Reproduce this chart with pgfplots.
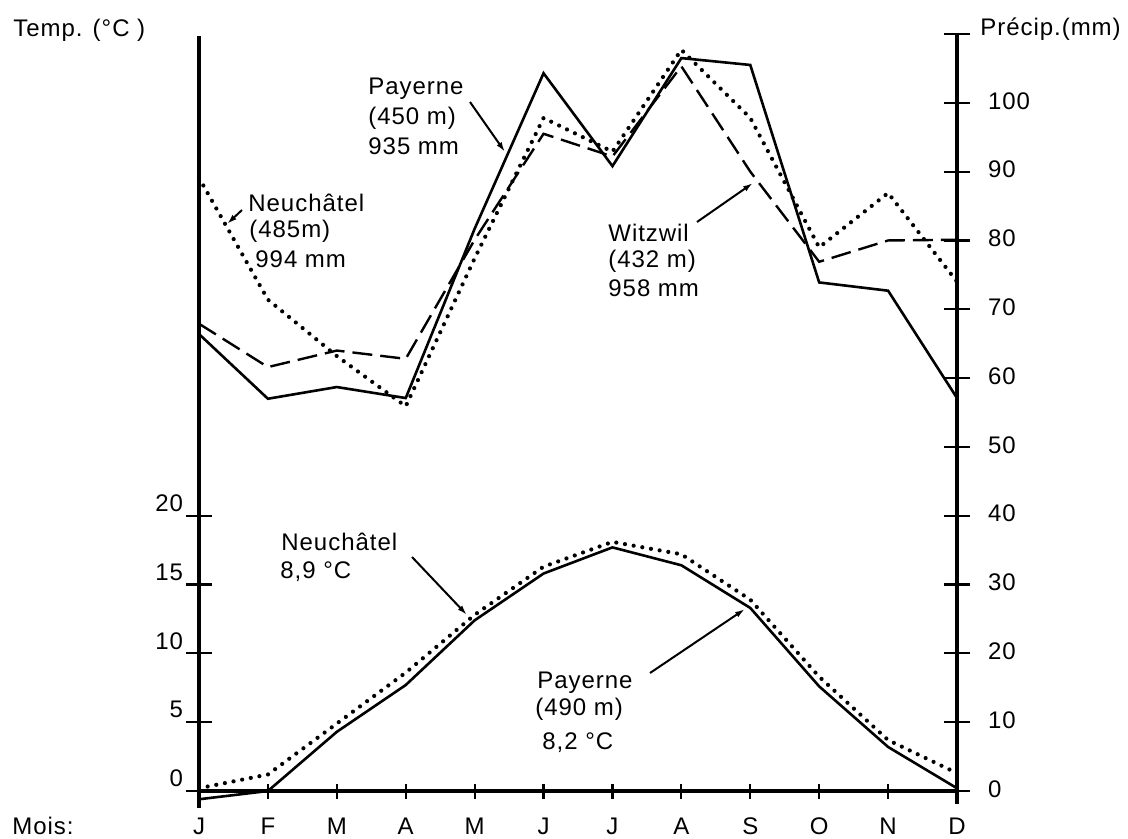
\documentclass[border=0pt]{standalone}
\usepackage{pgfplots}
\pgfplotsset{compat=1.18}
\usepackage{pgfplotstable}
\usepackage{fontspec}
\setmainfont{Liberation Sans}[LetterSpace=4]
\usetikzlibrary{arrows.meta}

% precipitation (mm), month index 0..11
\pgfplotstableread{
m pay wit neu
0 66.4 67.9 89.1
1 57.0 61.6 71.4
2 58.7 64.0 63.2
3 57.1 62.8 55.9
4 81.7 80.1 77.4
5 104.3 95.5 97.8
6 90.8 92.2 92.9
7 106.5 105.3 107.7
8 105.5 90.0 97.8
9 73.9 76.9 79.0
10 72.7 80.0 86.9
11 57.1 80.1 74.0
}\precip

% temperature (deg C)
\pgfplotstableread{
m pay neu
0 -0.6 0.2
1 0.0 1.2
2 4.3 4.9
3 7.7 8.6
4 12.4 12.8
5 15.8 16.3
6 17.7 18.1
7 16.4 17.2
8 13.3 13.9
9 7.6 8.3
10 3.2 3.7
11 0.2 1.3
}\temp

\begin{document}
\begin{tikzpicture}
\useasboundingbox (0,0) rectangle (564pt,-419.5pt);
\pgfplotsset{base/.style={at={(99.5pt,-395.5pt)}, anchor=south west,
  width=379pt, height=378.5pt, scale only axis, xmin=0, xmax=11, clip=false,
  font=\fontsize{12}{14}\selectfont,
  /pgf/number format/assume math mode=true,
  tick style={black, line width=1.1pt}},
  dots/.style={black, line width=2.1pt, line cap=round, dash pattern=on 0pt off 4.4pt}}

% x axis (months)
\begin{axis}[base, ymin=0, ymax=110, axis y line=none, axis x line*=bottom,
  x axis line style={line width=1.7pt, -},
  xtick={0,...,11}, xticklabels={J,F,M,A,M,J,J,A,S,O,N,D},
  tick align=center, major tick length=7.5pt,
  xticklabel style={yshift=-6pt}]
\end{axis}

% precipitation axis (right)
\begin{axis}[base, ymin=0, ymax=110, axis x line=none, axis y line*=right,
  y axis line style={line width=2.2pt, shorten <=-6.5pt, -},
  ytick={0,10,20,30,40,50,60,70,80,90,100,110},
  yticklabels={0,10,20,30,40,50,60,70,80,90,100,{}},
  tick align=center, major tick length=13pt,
  yticklabel style={anchor=west, xshift=5.5pt, yshift=1pt}]
\addplot[black, line width=1.3pt] table[x=m,y=pay]{\precip};
\addplot[black, line width=1.2pt, dash pattern=on 10pt off 4pt] table[x=m,y=wit]{\precip};
\addplot[dots] table[x=m,y=neu]{\precip};
\end{axis}

% temperature axis (left)
\begin{axis}[base, ymin=0, ymax=55, axis x line=none, axis y line*=left,
  y axis line style={line width=2.2pt, shorten <=-8.5pt, shorten >=1pt, -},
  ytick={0,5,10,15,20}, yticklabels={0,5,10,15,20},
  tick align=center, major tick length=13pt,
  yticklabel style={anchor=south east, xshift=2pt, yshift=-1.5pt}]
\addplot[black, line width=1.3pt] table[x=m,y=pay]{\temp};
\addplot[dots] table[x=m,y=neu]{\temp};
\end{axis}

\begin{scope}[x=0.5pt, y=-0.5pt, font=\fontsize{12}{14}\selectfont]
\node[anchor=base west, inner sep=0pt] at (13,37) {Temp. (°C )};
\node[anchor=base west, inner sep=0pt] at (980,36) {Précip.(mm)};
\node[anchor=base west, inner sep=0pt] at (12,834) {Mois:};
% Payerne precip
\node[anchor=base west, inner sep=0pt] at (368,95) {Payerne};
\node[anchor=base west, inner sep=0pt] at (368,125) {(450 m)};
\node[anchor=base west, inner sep=0pt] at (368,155) {935 mm};
% Neuchatel precip
\node[anchor=base west, inner sep=0pt] at (248,212) {Neuchâtel};
\node[anchor=base west, inner sep=0pt] at (249,238) {(485m)};
\node[anchor=base west, inner sep=0pt] at (255,268) {994 mm};
% Witzwil
\node[anchor=base west, inner sep=0pt] at (608,242) {Witzwil};
\node[anchor=base west, inner sep=0pt] at (608,268) {(432 m)};
\node[anchor=base west, inner sep=0pt] at (608,297) {958 mm};
% Neuchatel temp
\node[anchor=base west, inner sep=0pt] at (281,550) {Neuchâtel};
\node[anchor=base west, inner sep=0pt] at (280,578) {8,9 °C};
% Payerne temp
\node[anchor=base west, inner sep=0pt] at (537,688) {Payerne};
\node[anchor=base west, inner sep=0pt] at (535,715) {(490 m)};
\node[anchor=base west, inner sep=0pt] at (542,749) {8,2 °C};
% arrows
\begin{scope}[line width=1pt, -{Latex[length=5pt,width=3pt]}]
\draw (242,210) -- (227,224);
\draw (470,102) -- (505,152);
\draw (697,222) -- (753,183);
\draw (412,557) -- (467,615);
\draw (650,673) -- (745,609);
\end{scope}
\end{scope}
\end{tikzpicture}
\end{document}
